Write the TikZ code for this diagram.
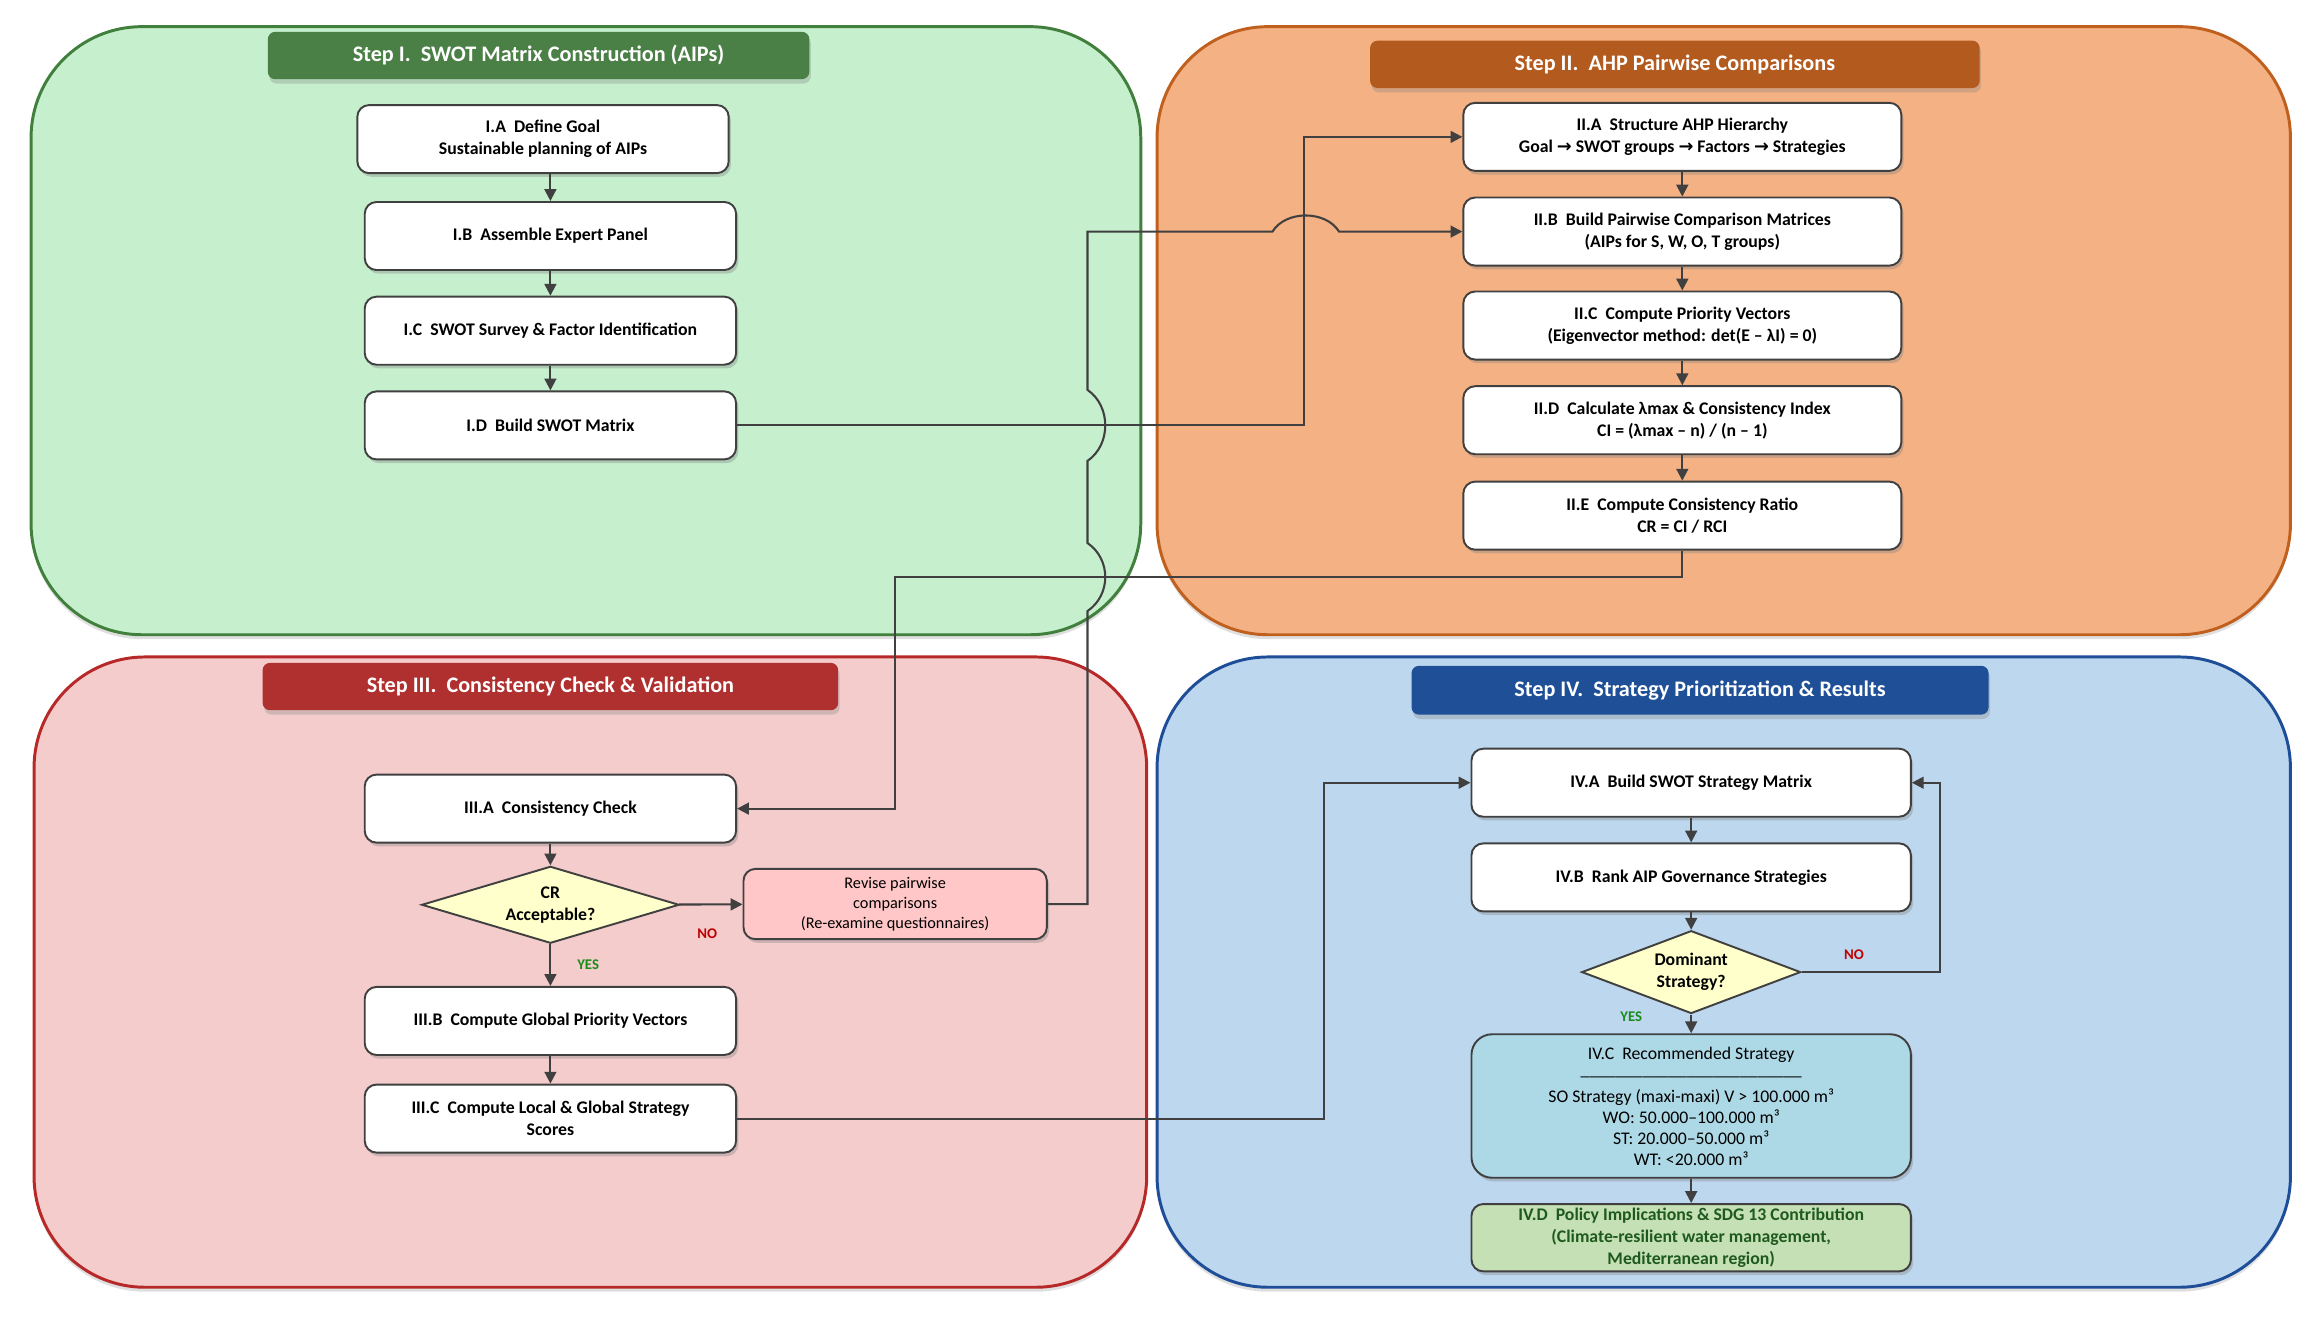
\documentclass[tikz,border=0pt]{standalone}
\usepackage{fontspec}
\setmainfont{Carlito}
\newfontfamily\arrowfont{DejaVu Sans}
\usetikzlibrary{arrows.meta,shapes.geometric,shadows}
\definecolor{edgegray}{HTML}{404040}
\definecolor{fillI}{HTML}{C6EFCE}
\definecolor{lineI}{HTML}{41803C}
\definecolor{barI}{HTML}{4A7F45}
\definecolor{fillII}{HTML}{F4B183}
\definecolor{lineII}{HTML}{C0601E}
\definecolor{barII}{HTML}{B35A1F}
\definecolor{fillIII}{HTML}{F4CCCC}
\definecolor{lineIII}{HTML}{B72828}
\definecolor{barIII}{HTML}{B03030}
\definecolor{fillIV}{HTML}{BDD7EE}
\definecolor{lineIV}{HTML}{1F4E99}
\definecolor{barIV}{HTML}{1F4F96}
\definecolor{askfill}{HTML}{FFFFCC}
\definecolor{revfill}{HTML}{FFC7C7}
\definecolor{resfill}{HTML}{ADD8E6}
\definecolor{sdgfill}{HTML}{C5E0B4}
\definecolor{sdgtext}{HTML}{1E5A1E}
\definecolor{yesgreen}{HTML}{1A8C1A}
\definecolor{nored}{HTML}{C00000}
\newcommand{\tto}{{\arrowfont\bfseries\fontsize{12}{12}\selectfont →}}
\begin{document}
\begin{tikzpicture}[x=1pt,y=-1pt,
panel/.style={line width=2pt,rounded corners=75pt,drop shadow={shadow xshift=0pt,shadow yshift=-3pt,opacity=.25}},
stepbar/.style={rounded corners=5pt,inner sep=0pt,text=white,font=\bfseries\fontsize{15}{18}\selectfont,drop shadow={shadow xshift=1pt,shadow yshift=-3pt,opacity=.3}},
box/.style={draw=edgegray,fill=white,line width=1.3pt,rounded corners=8pt,inner sep=2pt,align=center,minimum width=251pt,minimum height=46pt,font=\bfseries\fontsize{12}{15}\selectfont,drop shadow={shadow xshift=1.5pt,shadow yshift=-2.5pt,opacity=.35}},
ask/.style={diamond,draw=edgegray,fill=askfill,line width=1.3pt,inner sep=0pt,align=center,font=\bfseries\fontsize{12}{15}\selectfont},
flow/.style={draw=edgegray,line width=1.4pt,-{Triangle[length=8pt,width=8pt]}},
yeslbl/.style={text=yesgreen,font=\bfseries\fontsize{10}{12}\selectfont},
nolbl/.style={text=nored,font=\bfseries\fontsize{10}{12}\selectfont}]
\useasboundingbox (0,0) rectangle (1568,892);
\filldraw[panel,draw=lineI,fill=fillI] (21,18) rectangle (771,429);
\filldraw[panel,draw=lineII,fill=fillII] (782,18) rectangle (1548,429);
\filldraw[panel,draw=lineIII,fill=fillIII] (23,444) rectangle (775,870);
\filldraw[panel,draw=lineIV,fill=fillIV] (782,444) rectangle (1548,870);
\node[stepbar,fill=barI,minimum width=366pt,minimum height=32pt] (stepI) at (364,37.5) {Step I.~~SWOT Matrix Construction (AIPs)};
\node[stepbar,fill=barII,minimum width=412pt,minimum height=32pt] (stepII) at (1132,43.5) {Step II.~~AHP Pairwise Comparisons};
\node[stepbar,fill=barIII,minimum width=389pt,minimum height=32pt] (stepIII) at (372,464) {Step III.~~Consistency Check \& Validation};
\node[stepbar,fill=barIV,minimum width=390pt,minimum height=33pt] (stepIV) at (1149,466.5) {Step IV.~~Strategy Prioritization \& Results};
\node[box] (IA) at (367,94) {I.A~~Define Goal\\Sustainable planning of AIPs};
\node[box] (IB) at (372,159.5) {I.B~~Assemble Expert Panel};
\node[box] (IC) at (372,223.5) {I.C~~SWOT Survey \& Factor Identification};
\node[box] (ID) at (372,287.5) {I.D~~Build SWOT Matrix};
\node[box,minimum width=296pt] (IIA) at (1137,92.5) {II.A~~Structure AHP Hierarchy\\Goal \tto{} SWOT groups \tto{} Factors \tto{} Strategies};
\node[box,minimum width=296pt] (IIB) at (1137,156.5) {II.B~~Build Pairwise Comparison Matrices\\(AIPs for S, W, O, T groups)};
\node[box,minimum width=296pt] (IIC) at (1137,220) {II.C~~Compute Priority Vectors\\(Eigenvector method: det(E – λI) = 0)};
\node[box,minimum width=296pt] (IID) at (1137,284) {II.D~~Calculate λmax \& Consistency Index\\CI = (λmax – n) / (n – 1)};
\node[box,minimum width=296pt] (IIE) at (1137,348.5) {II.E~~Compute Consistency Ratio\\CR = CI / RCI};
\node[box] (IIIA) at (372,546.5) {III.A~~Consistency Check};
\node[ask,minimum width=174pt,minimum height=52pt,shape aspect=3.3] (crok) at (372,611.5) {CR\\Acceptable?};
\node[box,fill=revfill,minimum width=205pt,minimum height=47.5pt,font=\fontsize{11}{13.5}\selectfont] (revise) at (605,611) {Revise pairwise\\comparisons\\(Re-examine questionnaires)};
\node[box] (IIIB) at (372,690) {III.B~~Compute Global Priority Vectors};
\node[box] (IIIC) at (372,756) {III.C~~Compute Local \& Global Strategy\\Scores};
\node[box,minimum width=297pt] (IVA) at (1143,529) {IV.A~~Build SWOT Strategy Matrix};
\node[box,minimum width=297pt] (IVB) at (1143,593) {IV.B~~Rank AIP Governance Strategies};
\node[ask,minimum width=148pt,minimum height=56pt,shape aspect=2.65] (domst) at (1143,657) {Dominant\\Strategy?};
\node[box,fill=resfill,minimum width=297pt,minimum height=97pt,rounded corners=14pt,font=\fontsize{12}{14}\selectfont] (IVC) at (1143,747.5) {IV.C~~Recommended Strategy\\[-3pt]\_\_\_\_\_\_\_\_\_\_\_\_\_\_\_\_\_\_\_\_\_\_\_\_\_\\[4.5pt]SO Strategy (maxi-maxi) V > 100.000 m³\\WO: 50.000–100.000 m³\\ST: 20.000–50.000 m³\\WT: <20.000 m³};
\node[box,fill=sdgfill,text=sdgtext,minimum width=297pt,minimum height=45.5pt] (IVD) at (1143,836.5) {IV.D~~Policy Implications \& SDG 13 Contribution\\(Climate-resilient water management,\\Mediterranean region)};
\node[nolbl] (noI) at (478,631) {NO};
\node[yeslbl] (yesI) at (397.5,652) {YES};
\node[nolbl] (noII) at (1253,645.5) {NO};
\node[yeslbl] (yesII) at (1102.5,687) {YES};
\draw[flow] (IA.south -| IB.north) -- (IB.north);
\draw[flow] (IB) -- (IC);
\draw[flow] (IC) -- (ID);
\draw[flow] (IIA) -- (IIB);
\draw[flow] (IIB) -- (IIC);
\draw[flow] (IIC) -- (IID);
\draw[flow] (IID) -- (IIE);
\draw[flow] (IIIA) -- (crok);
\draw[flow] (crok) -- (IIIB);
\draw[flow] (IIIB) -- (IIIC);
\draw[flow] (crok) -- (revise);
\draw[flow] (IVA) -- (IVB);
\draw[flow] (IVB) -- (domst);
\draw[flow] (domst) -- (IVC);
\draw[flow] (IVC) -- (IVD);
\draw[flow] (ID.east) -| (881,92.5) -- (IIA.west);
\draw[flow] (revise.east) -| (735,413) .. controls (751,402) and (751,378) .. (735,367) -- (735,311.5) .. controls (751,300.5) and (751,274.5) .. (735,263.5) -- (735,156.5) -- (860,156.5) .. controls (869,142) and (896,142) .. (905,156.5) -- (IIB.west);
\draw[flow] (IIE.south) |- (605,390) |- (IIIA.east);
\draw[flow] (IIIC.east) -| (895,529) -- (IVA.west);
\draw[flow] (domst.east) -| (1311,529) -- (IVA.east);
\end{tikzpicture}
\end{document}
